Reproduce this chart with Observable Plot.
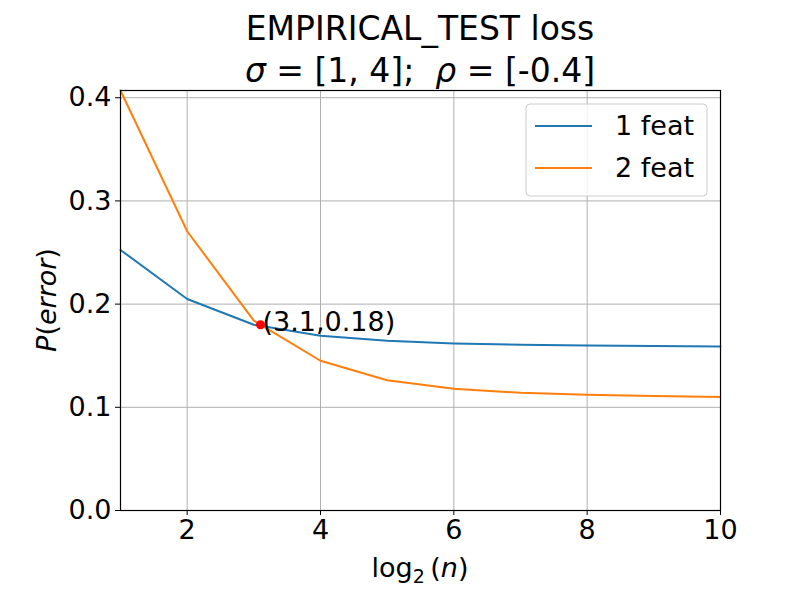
<!DOCTYPE html>
<html>
<head>
<meta charset="utf-8">
<script src="https://cdn.jsdelivr.net/npm/d3@7"></script>
<script src="https://cdn.jsdelivr.net/npm/@observablehq/plot@0.6"></script>
<style>
  html, body { margin: 0; padding: 0; background: #fff; }
  #chart { width: 800px; height: 600px; }
  svg { font-family: "DejaVu Sans", sans-serif; }
</style>
</head>
<body>
<div id="chart"></div>
<script>
// log2(n) sample sizes
const log2n = [1, 2, 3, 4, 5, 6, 7, 8, 9, 10];
// empirical test error with one feature and with two features
const oneFeat = [0.2525, 0.205, 0.180, 0.1693, 0.1645, 0.1619, 0.1606, 0.160, 0.1595, 0.159];
const twoFeat = [0.407, 0.2706, 0.184, 0.1451, 0.1263, 0.1179, 0.114, 0.1121, 0.111, 0.1101];
const seriesNames = ["1 feat", "2 feat"];
const seriesColors = ["#1f77b4", "#ff7f0e"];
// crossing point of the two curves
const crossX = 3.1;
const crossY = 0.18;
const xTicks = [2, 4, 6, 8, 10];
const yTicks = [0, 0.1, 0.2, 0.3, 0.4];

const rows = [
  ...log2n.map((x, i) => ({x, y: oneFeat[i], s: seriesNames[0]})),
  ...log2n.map((x, i) => ({x, y: twoFeat[i], s: seriesNames[1]}))
];
const yMax = d3.max(rows, d => d.y);

const W = 800, H = 600, ML = 120, MR = 80, MT = 90, MB = 90;

const plot = Plot.plot({
  width: W, height: H,
  marginLeft: ML, marginRight: MR, marginTop: MT, marginBottom: MB,
  style: {fontFamily: "DejaVu Sans, sans-serif", fontSize: "27px", color: "black", background: "white"},
  x: {domain: [1, 10]},
  y: {domain: [0, yMax]},
  color: {domain: seriesNames, range: seriesColors},
  marks: [
    Plot.gridX(xTicks, {stroke: "#b0b0b0", strokeOpacity: 1, strokeWidth: 1}),
    Plot.gridY(yTicks, {stroke: "#b0b0b0", strokeOpacity: 1, strokeWidth: 1}),
    Plot.line(rows, {x: "x", y: "y", z: "s", stroke: "s", strokeWidth: 2}),
    Plot.dot([{x: crossX, y: crossY}], {x: "x", y: "y", r: 4.5, fill: "red", stroke: "none"}),
    Plot.text([{x: crossX, y: crossY}], {
      x: "x", y: "y",
      text: d => `(${d.x},${d.y})`,
      textAnchor: "start", lineAnchor: "bottom", dy: 6, dx: 2,
      fontSize: 27, fill: "black"
    }),
    Plot.frame({stroke: "black", strokeWidth: 1.2}),
    Plot.axisX(xTicks, {tickSize: 5, tickPadding: 4, fontSize: 27, label: null, tickFormat: d3.format("d")}),
    Plot.axisY(yTicks, {tickSize: 5, tickPadding: 4, fontSize: 27, label: null, tickFormat: d3.format(".1f")})
  ]
});
document.getElementById("chart").appendChild(plot);

const svg = d3.select(plot);
const cx = ML + (W - ML - MR) / 2;

// title, two lines
svg.append("text").attr("x", cx).attr("y", 40)
  .attr("text-anchor", "middle").attr("font-size", 33).attr("fill", "black")
  .text("EMPIRICAL_TEST loss");
const t2 = svg.append("text").attr("x", cx).attr("y", 82)
  .attr("text-anchor", "middle").attr("font-size", 33).attr("fill", "black")
  .style("white-space", "pre");
t2.append("tspan").attr("font-style", "italic").text("σ");
t2.append("tspan").text(" = [1, 4];  ");
t2.append("tspan").attr("font-style", "italic").text("ρ");
t2.append("tspan").text(" = [-0.4]");

// x axis label: log2(n)
const xl = svg.append("text").attr("x", cx).attr("y", 577)
  .attr("text-anchor", "middle").attr("font-size", 27).attr("fill", "black");
xl.append("tspan").text("log");
xl.append("tspan").attr("font-size", 19).attr("dy", 6).text("2");
xl.append("tspan").attr("dy", -6).text("\u2009(");
xl.append("tspan").attr("font-style", "italic").text("n");
xl.append("tspan").text(")");

// y axis label: P(error)
const yl = svg.append("text")
  .attr("transform", `translate(56,${MT + (H - MT - MB) / 2}) rotate(-90)`)
  .attr("text-anchor", "middle").attr("font-size", 27).attr("fill", "black");
yl.append("tspan").attr("font-style", "italic").text("P");
yl.append("tspan").text("(");
yl.append("tspan").attr("font-style", "italic").text("error");
yl.append("tspan").text(")");

// legend box in the upper right corner
const lg = svg.append("g").attr("text-anchor", "start");
lg.append("rect").attr("x", 526).attr("y", 104).attr("width", 181).attr("height", 92)
  .attr("rx", 4).attr("fill", "white").attr("fill-opacity", 0.8)
  .attr("stroke", "#cccccc").attr("stroke-width", 1);
seriesNames.forEach((name, i) => {
  const y = 126 + i * 42;
  lg.append("line").attr("x1", 535).attr("x2", 592).attr("y1", y).attr("y2", y)
    .attr("stroke", seriesColors[i]).attr("stroke-width", 2);
  lg.append("text").attr("x", 615).attr("y", y).attr("dy", "0.35em")
    .attr("text-anchor", "start")
    .attr("font-size", 27).attr("fill", "black").text(name);
});
</script>
</body>
</html>
